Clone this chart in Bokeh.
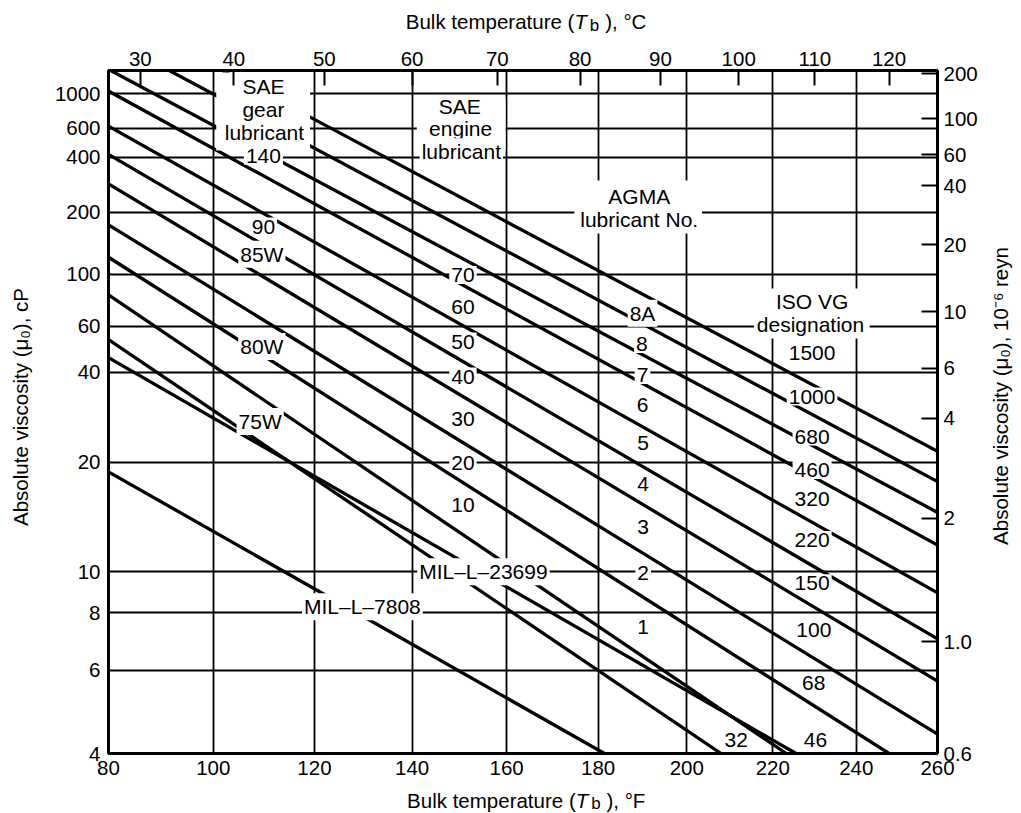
import numpy as np
from bokeh.plotting import figure
from bokeh.models import Range1d, LinearAxis, FixedTicker, Label, ColumnDataSource
from bokeh.embed import file_html
from bokeh.resources import INLINE

# ---------------- data ----------------
temp_f_ticks = [80, 100, 120, 140, 160, 180, 200, 220, 240, 260]
temp_c_ticks = [30, 40, 50, 60, 70, 80, 90, 100, 110, 120]
visc_cp_ticks = [1000, 600, 400, 200, 100, 60, 40, 20, 10, 8, 6, 4]
visc_cp_grid = [1000, 600, 400, 200, 100, 60, 40, 20, 10, 8, 6]
visc_reyn_ticks = [200, 100, 60, 40, 20, 10, 6, 4, 2, 1.0, 0.6]
visc_reyn_labels = ["200", "100", "60", "40", "20", "10", "6", "4", "2", "1.0", "0.6"]
CP_PER_MICROREYN = 6.895

oil_names = ["line 1", "line 2", "line 3", "line 4", "line 5", "line 6", "line 7",
             "line 8", "line 9", "line 10", "line 11", "MIL-L-23699", "MIL-L-7808"]
t_start = [101.8, 91.5, 80.4, 80, 80, 80, 80, 80, 80, 80, 80, 80, 80]
v_start = [1450, 1450, 1450, 1045, 618, 416, 283, 172.5, 120, 81.2, 53.2, 45.3, 18.7]
t_end = [260, 260, 260, 260, 260, 260, 260, 260, 248.0, 223.2, 207.9, 225.5, 181.4]
v_end = [21.6, 17.5, 14.3, 11.7, 8.9, 7.0, 5.7, 4.5, 4.15, 4.15, 4.15, 4.15, 4.15]

T_MIN, T_MAX = 80, 260
V_MIN, V_MAX = 4.15, 1450

# chart labels: text, centre x (px), anchor y (px), white background?
label_text = ["SAE", "gear", "lubricant", "140", "90", "85W", "80W", "75W",
              "SAE", "engine", "lubricant", "70", "60", "50", "40", "30", "20", "10",
              "AGMA", "lubricant No.", "8A", "8", "7", "6", "5", "4", "3", "2", "1",
              "ISO VG", "designation", "1500", "1000", "680", "460", "320", "220",
              "150", "100", "68", "46", "32",
              "MIL\u2013L\u201323699", "MIL\u2013L\u20137808"]
label_px = [263.3, 263.3, 264.3, 263.3, 263.3, 261.7, 261.7, 260,
            460, 461, 461.7, 463.3, 463.3, 463.3, 463.3, 463.3, 463.3, 463.3,
            640, 640, 643.3, 642.7, 643.3, 643.3, 644, 644, 644, 644, 644,
            813.3, 811.7, 813.3, 813.3, 813.3, 813.3, 813.3, 813.3,
            813.3, 815, 815, 816.7, 737.3,
            483.8, 362.5]
label_py = [86.3, 109.3, 132, 155.3, 226, 253.7, 346, 421,
            106, 128, 151.3, 274.5, 306, 341, 376, 418, 462, 504.5,
            196, 218.7, 312.8, 343.5, 374.5, 404.5, 442.8, 483.5, 526, 572.8, 626.8,
            301, 323.7, 352.8, 396, 436, 469.5, 498.8, 539.5,
            582.8, 629.5, 682.8, 739.5, 739.5,
            571.2, 606.2]
label_bg = [False, False, False, True, True, True, True, True,
            False, False, True, True, True, True, True, True, True, True,
            False, False, True, True, True, True, True, True, True, True, True,
            False, False, True, True, True, True, True, True,
            True, True, True, True, True,
            True, True]
# white blocks behind the multi-line captions (px: left, right, top, bottom)
block_l = [216, 417, 575, 755]
block_r = [310, 506, 703, 871]
block_t = [72, 98, 180, 288]
block_b = [150, 150, 233, 338]

# ---------------- scales (ASTM style chart) ----------------
def tx(t):
    return np.log10(np.asarray(t, dtype=float) + 459.67)

def ty(v):
    return np.log10(np.log10(np.asarray(v, dtype=float) + 0.7))

X0, X1 = float(tx(T_MIN)), float(tx(T_MAX))
Y0, Y1 = float(ty(V_MIN)), float(ty(V_MAX))

W, H = 1021, 813
ML, MT = 108, 70
FW, FH = 831, 683
MR, MB = W - ML - FW, H - MT - FH

def px2x(px):
    return X0 + (px - ML) / FW * (X1 - X0)

def py2y(py):
    return Y1 - (py - MT) / FH * (Y1 - Y0)

FONT = "Liberation Sans"
TICK_FS = "20.5px"
LAB_FS = "21px"
TITLE_FS = "20.5px"

p = figure(width=W, height=H, x_range=Range1d(X0, X1), y_range=Range1d(Y0, Y1),
           output_backend="svg", toolbar_location=None,
           min_border_left=ML, min_border_right=MR, min_border_top=MT, min_border_bottom=MB,
           background_fill_color="white", border_fill_color="white")
p.outline_line_color = "black"
p.outline_line_width = 3
p.outline_line_alpha = 1.0

def style_axis(ax, standoff, tick_in=0):
    ax.axis_line_color = None
    ax.major_tick_out = 0
    ax.major_tick_in = tick_in
    ax.major_tick_line_color = "black" if tick_in else None
    ax.major_tick_line_width = 2
    ax.minor_tick_line_color = None
    ax.major_label_text_font = FONT
    ax.major_label_text_font_size = TICK_FS
    ax.major_label_text_color = "black"
    ax.major_label_standoff = standoff

# bottom axis (deg F)
fpos = [float(tx(t)) for t in temp_f_ticks]
xb = p.xaxis[0]
xb.ticker = FixedTicker(ticks=fpos)
xb.major_label_overrides = {fp: str(t) for fp, t in zip(fpos, temp_f_ticks)}
style_axis(xb, 7)

# left axis (cP)
def clamp_y(v):
    return float(min(max(float(ty(v)), Y0), Y1))

lpos = [clamp_y(v) for v in visc_cp_ticks]
yl = p.yaxis[0]
yl.ticker = FixedTicker(ticks=lpos)
yl.major_label_overrides = {lp: str(v) for lp, v in zip(lpos, visc_cp_ticks)}
style_axis(yl, 8)

# top axis (deg C)
cpos = [float(tx(c * 9 / 5 + 32)) for c in temp_c_ticks]
xt = LinearAxis(ticker=FixedTicker(ticks=cpos),
                major_label_overrides={cp: str(c) for cp, c in zip(cpos, temp_c_ticks)})
style_axis(xt, 5, tick_in=15)
p.add_layout(xt, "above")

# right axis (1e-6 reyn)
rpos = [clamp_y(r * CP_PER_MICROREYN) for r in visc_reyn_ticks]
yr = LinearAxis(ticker=FixedTicker(ticks=rpos),
                major_label_overrides={rp: lab for rp, lab in zip(rpos, visc_reyn_labels)})
style_axis(yr, 6, tick_in=16)
p.add_layout(yr, "right")

# grid
p.xgrid.ticker = FixedTicker(ticks=fpos)
p.ygrid.ticker = FixedTicker(ticks=[float(ty(v)) for v in visc_cp_grid])
for g in (p.xgrid, p.ygrid):
    g.grid_line_color = "black"
    g.grid_line_width = 1.8
    g.grid_line_alpha = 1.0

# viscosity lines
src = ColumnDataSource(dict(x0=tx(t_start), y0=ty(v_start), x1=tx(t_end), y1=ty(v_end),
                            name=oil_names))
p.segment("x0", "y0", "x1", "y1", source=src, line_color="black", line_width=3.3)

# white caption blocks
p.quad(left=[px2x(v) for v in block_l], right=[px2x(v) for v in block_r],
       top=[py2y(v) for v in block_t], bottom=[py2y(v) for v in block_b],
       fill_color="white", line_color=None)

# chart labels
for txt, lx, ly, bg in zip(label_text, label_px, label_py, label_bg):
    kw = dict(x=px2x(lx), y=py2y(ly), text=txt, text_align="center",
              text_baseline="alphabetic", text_font=FONT, text_font_size=LAB_FS,
              text_color="black")
    if bg:
        kw.update(background_fill_color="white", background_fill_alpha=1.0, padding=2)
    p.add_layout(Label(**kw))

# ---------------- axis titles (side-panel labels, not clipped) ----------------
def side_label(place, px, py, text, **extra):
    kw = dict(x=px2x(px), y=py2y(py), text=text, text_baseline="alphabetic",
              text_font=FONT, text_font_size=TITLE_FS, text_color="black")
    kw.update(extra)
    p.add_layout(Label(**kw), place)

GAP = "\u2003\u2002"
side_label("above", 406, 21, "Bulk temperature (" + GAP + "), \u00b0C", text_align="left")
side_label("below", 407.3, 800, "Bulk temperature (" + GAP + "), \u00b0F", text_align="left")
side_label("left", 19.5, 406.5, "Absolute viscosity (\u03bc\u2080), cP",
           text_align="center", angle=np.pi / 2)
side_label("right", 1002.5, 395.5, "Absolute viscosity (\u03bc\u2080), 10\u207b\u2076 reyn",
           text_align="center", angle=np.pi / 2)
# italic T with subscript b
side_label("left", 575, 21, "T", text_align="left", text_font_style="italic")
side_label("left", 576.3, 800, "T", text_align="left", text_font_style="italic")
side_label("right", 590.5, 25, "b", text_align="left", text_font_size="17px")
side_label("right", 591.8, 802.5, "b", text_align="left", text_font_size="17px")

open("out.html", "w").write(file_html(p, INLINE))
